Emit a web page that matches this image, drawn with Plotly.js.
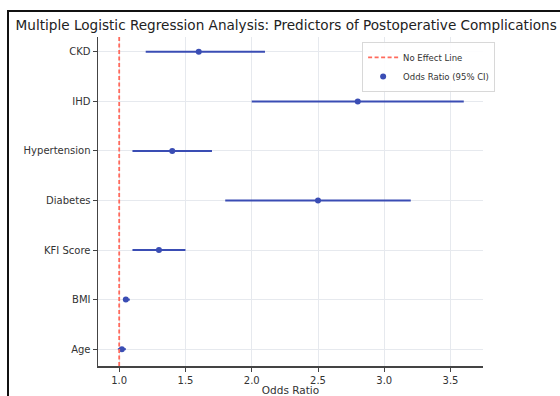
<!DOCTYPE html>
<html>
<head>
<meta charset="utf-8">
<script src="https://cdn.plot.ly/plotly-3.0.1.min.js"></script>
<style>
  html, body { margin: 0; padding: 0; background: #fff; }
  #wrap { position: relative; width: 560px; height: 396px; overflow: hidden; }
  #chart { position: absolute; left: 0; top: 0; width: 560px; height: 396px; }
  #frame { position: absolute; left: 7px; top: 10px; width: 600px; height: 400px;
           border-left: 2px solid #111; border-top: 2px solid #111; pointer-events: none; }
</style>
</head>
<body>
<div id="wrap">
  <div id="chart"></div>
  <div id="frame"></div>
</div>
<script>
// Predictors (bottom to top as drawn)
const predictors = ["Age", "BMI", "KFI Score", "Diabetes", "Hypertension", "IHD", "CKD"];
const oddsRatio  = [1.02, 1.05, 1.3, 2.5, 1.4, 2.8, 1.6];
const ciLower    = [0.99, 1.03, 1.1, 1.8, 1.1, 2.0, 1.2];
const ciUpper    = [1.05, 1.08, 1.5, 3.2, 1.7, 3.6, 2.1];
const noEffect = 1.0;
const xTicks = [1.0, 1.5, 2.0, 2.5, 3.0, 3.5];
const xTickText = ["1.0", "1.5", "2.0", "2.5", "3.0", "3.5"];

const blue = "#3a4db4";
const red = "#ff6a5c";

const errPlus = oddsRatio.map((v, i) => ciUpper[i] - v);
const errMinus = oddsRatio.map((v, i) => v - ciLower[i]);

const traces = [
  {
    type: "scatter", mode: "lines", name: "No Effect Line",
    x: [null], y: [null],
    line: { color: red, dash: "4px,2.5px", width: 1.8 },
    hoverinfo: "skip"
  },
  {
    type: "scatter", mode: "markers", name: "Odds Ratio (95% CI)",
    x: oddsRatio, y: predictors,
    marker: { color: blue, size: 6, symbol: "circle" },
    error_x: { type: "data", symmetric: false, array: errPlus, arrayminus: errMinus,
               color: blue, thickness: 2, width: 0 }
  }
];

const layout = {
  width: 560, height: 396,
  margin: { l: 98, r: 77, t: 37, b: 30 },
  paper_bgcolor: "#fff", plot_bgcolor: "#fff",
  font: { family: "DejaVu Sans", color: "#333", size: 10 },
  title: {
    text: "Multiple Logistic Regression Analysis: Predictors of Postoperative Complications",
    font: { family: "DejaVu Sans", size: 13.6, color: "#222" },
    xref: "container", x: 0.511, xanchor: "center",
    yref: "container", y: 0.937, yanchor: "middle"
  },
  xaxis: {
    range: [0.84, 3.745],
    tickvals: xTicks, ticktext: xTickText,
    showgrid: true, gridcolor: "#e6e9ee", gridwidth: 1,
    zeroline: false,
    showline: true, linecolor: "#444", linewidth: 1.5,
    ticks: "outside", ticklen: 4, tickcolor: "#444",
    tickfont: { size: 10, color: "#333" },
    title: { text: "Odds Ratio", font: { size: 10.5, color: "#333" }, standoff: 3 }
  },
  yaxis: {
    type: "category",
    categoryorder: "array", categoryarray: predictors,
    range: [-0.34, 6.3],
    showgrid: true, gridcolor: "#e6e9ee", gridwidth: 1,
    zeroline: false,
    showline: true, linecolor: "#444", linewidth: 1.5,
    ticks: "outside", ticklen: 4, tickcolor: "#444",
    tickfont: { size: 10, color: "#333" }
  },
  shapes: [{
    type: "line", xref: "x", yref: "paper",
    x0: noEffect, x1: noEffect, y0: 0, y1: 1,
    line: { color: red, dash: "4px,2.5px", width: 1.8 }
  }],
  legend: {
    x: 0.686, y: 0.985, xanchor: "left", yanchor: "top",
    bgcolor: "rgba(255,255,255,0.9)", bordercolor: "#d8d8d8", borderwidth: 1,
    font: { size: 8.5, color: "#333" },
    itemwidth: 30, tracegroupgap: 0
  },
  showlegend: true
};

Plotly.newPlot("chart", traces, layout, { displayModeBar: false, staticPlot: true });
</script>
</body>
</html>
